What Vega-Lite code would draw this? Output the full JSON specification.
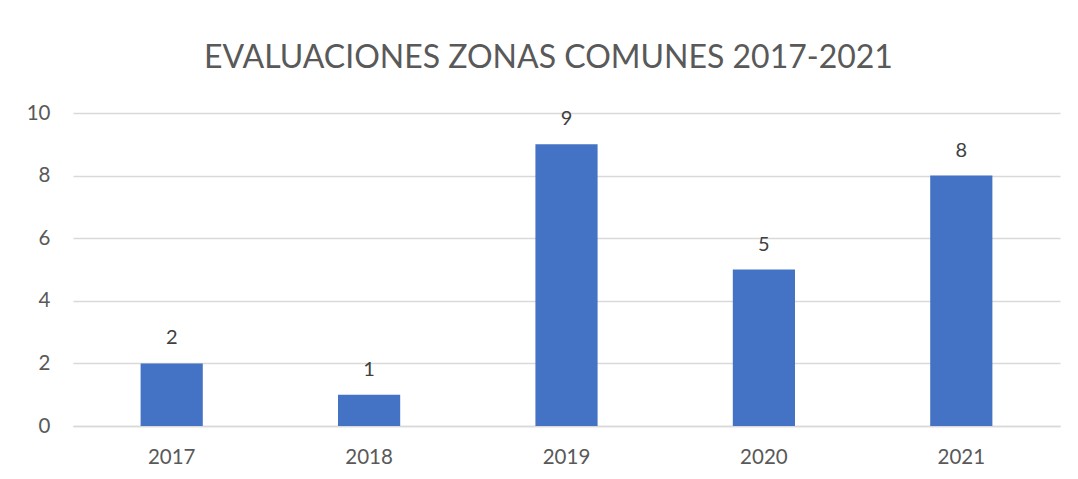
{
  "$schema": "https://vega.github.io/schema/vega-lite/v6.json",
  "autosize": "none",
  "width": 987,
  "height": 313,
  "padding": {"left": 73, "top": 113, "right": 18, "bottom": 40},
  "background": "white",
  "config": {"view": {"stroke": null}, "font": "Lato"},
  "title": {
    "text": "EVALUACIONES ZONAS COMUNES 2017-2021",
    "fontSize": 32,
    "font": "Lato",
    "fontWeight": "normal",
    "color": "#595959",
    "anchor": "middle",
    "dx": -18,
    "offset": 28
  },
  "data": {
    "values": [
      {"year": "2017", "value": 2},
      {"year": "2018", "value": 1},
      {"year": "2019", "value": 9},
      {"year": "2020", "value": 5},
      {"year": "2021", "value": 8}
    ]
  },
  "encoding": {
    "x": {
      "field": "year",
      "type": "nominal",
      "scale": {"paddingInner": 0.685, "paddingOuter": 0.3425},
      "axis": {
        "title": null,
        "labelAngle": 0,
        "labelFontSize": 20.5,
        "labelColor": "#595959",
        "labelPadding": 21,
        "ticks": false,
        "domainColor": "#d9d9d9",
        "domainWidth": 1.5
      }
    },
    "y": {
      "field": "value",
      "type": "quantitative",
      "scale": {"domain": [0, 10]},
      "axis": {
        "title": null,
        "values": [0, 2, 4, 6, 8, 10],
        "labelFontSize": 20.5,
        "labelColor": "#595959",
        "labelPadding": 23,
        "ticks": false,
        "domain": false,
        "gridColor": "#d9d9d9",
        "gridWidth": 1.5
      }
    }
  },
  "layer": [
    {"mark": {"type": "bar", "color": "#4472c4"}},
    {
      "mark": {"type": "text", "dy": -25, "fontSize": 20, "color": "#404040", "font": "Lato"},
      "encoding": {"text": {"field": "value", "type": "quantitative"}}
    }
  ]
}
